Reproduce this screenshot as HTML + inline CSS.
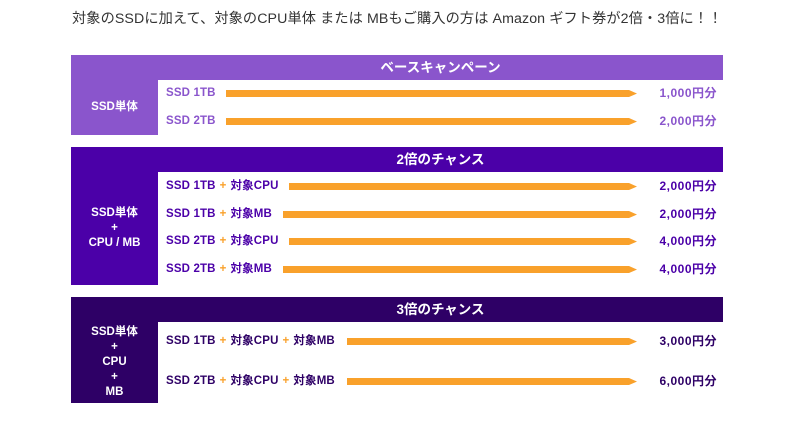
<!DOCTYPE html>
<html><head><meta charset="utf-8"><style>
*{margin:0;padding:0;box-sizing:border-box}
body{width:785px;height:431px;background:#fff;position:relative;overflow:hidden;font-family:"Liberation Sans","Noto Sans CJK JP",sans-serif}
.t{position:absolute;left:72px;top:8px;font-size:14.2px;color:#333;white-space:nowrap;letter-spacing:0.1px}
.sec{position:absolute;left:71px;width:652px}
.hd{position:absolute;left:0;top:0;width:652px;height:25px;color:#fff;font-weight:bold;font-size:13.5px;text-align:center;line-height:25px;padding-left:87px}
.lc{position:absolute;left:0;top:25px;width:87px;color:#fff;font-weight:bold;font-size:11.5px;display:flex;align-items:center;justify-content:center;text-align:center;line-height:15px}
.r{position:absolute;font-weight:bold;font-size:11.5px;white-space:nowrap;line-height:14px;letter-spacing:0.15px}
.p{color:#f9a12b;margin:0 4px}
.ar{position:absolute;height:7px;background:#f9a12b;clip-path:polygon(0 0,calc(100% - 8px) 0,100% 50%,calc(100% - 8px) 100%,0 100%)}
.v{position:absolute;right:6px;font-weight:bold;font-size:12px;line-height:14px;letter-spacing:0.5px}
</style></head><body>
<div class="t">対象のSSDに加えて、対象のCPU単体 または MBもご購入の方は Amazon ギフト券が2倍・3倍に！！</div>

<div class="sec" style="top:55px;height:80px;color:#8a55cc">
<div class="hd" style="background:#8a55cc">ベースキャンペーン</div>
<div class="lc" style="background:#8a55cc;height:55px">SSD単体</div>
<div class="r" style="left:95px;top:31px">SSD 1TB</div><div class="ar" style="left:155px;width:411px;top:35px"></div><div class="v" style="top:31px">1,000円分</div>
<div class="r" style="left:95px;top:59px">SSD 2TB</div><div class="ar" style="left:155px;width:411px;top:63px"></div><div class="v" style="top:59px">2,000円分</div>
</div>

<div class="sec" style="top:147px;height:138px;color:#4b00a8">
<div class="hd" style="background:#4b00a8">2倍のチャンス</div>
<div class="lc" style="background:#4b00a8;height:113px">SSD単体<br>+<br>CPU / MB</div>
<div class="r" style="left:95px;top:32px">SSD 1TB<span class="p">+</span>対象CPU</div><div class="ar" style="left:218px;width:348px;top:36px"></div><div class="v" style="top:32px">2,000円分</div>
<div class="r" style="left:95px;top:60px">SSD 1TB<span class="p">+</span>対象MB</div><div class="ar" style="left:212px;width:354px;top:64px"></div><div class="v" style="top:60px">2,000円分</div>
<div class="r" style="left:95px;top:87px">SSD 2TB<span class="p">+</span>対象CPU</div><div class="ar" style="left:218px;width:348px;top:91px"></div><div class="v" style="top:87px">4,000円分</div>
<div class="r" style="left:95px;top:115px">SSD 2TB<span class="p">+</span>対象MB</div><div class="ar" style="left:212px;width:354px;top:119px"></div><div class="v" style="top:115px">4,000円分</div>
</div>

<div class="sec" style="top:297px;height:106px;color:#2e0066">
<div class="hd" style="background:#2e0066">3倍のチャンス</div>
<div class="lc" style="background:#2e0066;height:81px">SSD単体<br>+<br>CPU<br>+<br>MB</div>
<div class="r" style="left:95px;top:37px">SSD 1TB<span class="p">+</span>対象CPU<span class="p">+</span>対象MB</div><div class="ar" style="left:276px;width:290px;top:41px"></div><div class="v" style="top:37px">3,000円分</div>
<div class="r" style="left:95px;top:77px">SSD 2TB<span class="p">+</span>対象CPU<span class="p">+</span>対象MB</div><div class="ar" style="left:276px;width:290px;top:81px"></div><div class="v" style="top:77px">6,000円分</div>
</div>
</body></html>
